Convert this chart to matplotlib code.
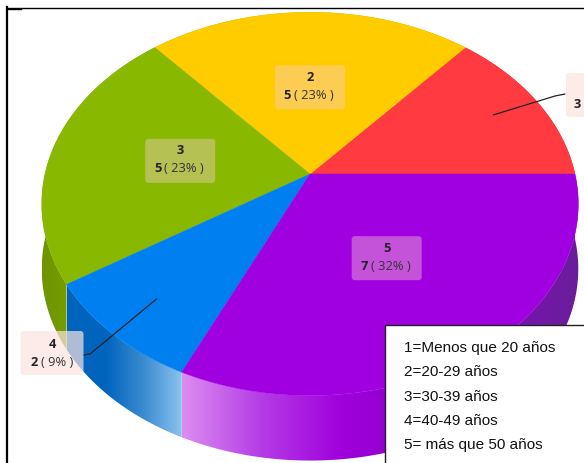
import numpy as np
import matplotlib
matplotlib.use("Agg")
import matplotlib.pyplot as plt
from matplotlib.patches import Polygon, FancyBboxPatch
from matplotlib.colors import LinearSegmentedColormap

# age groups and counts
groups = ["1", "2", "3", "4", "5"]
counts = [3, 5, 5, 2, 7]
percents = [14, 23, 23, 9, 32]
colors = ["#FF3A40", "#FFCC00", "#88B800", "#0080F0", "#A000E0"]
legend_lines = ["1=Menos que 20 años", "2=20-29 años", "3=30-39 años",
                "4=40-49 años", "5= más que 50 años"]

# perspective of the pie, in pixels
cx, cy = 310, 175
rx, ry = 265, 187
persp = 0.156
depth = 65


def project(theta, r=1.0):
    u = r * np.cos(theta)
    v = r * np.sin(theta)
    w = 1 + persp * v
    return cx + rx * u / w, cy - ry * v / w


def rim(t0, t1):
    t = np.linspace(t0, t1, 120)
    x, y = project(t)
    return np.column_stack([x, y])


fig = plt.figure(figsize=(5.84, 4.64), dpi=100)
ax = fig.add_axes([0, 0, 1, 1])
ax.set_xlim(0, 584)
ax.set_ylim(464, 0)
ax.axis("off")

edges = np.radians(np.concatenate([[0], np.cumsum(counts)]) / sum(counts) * 360)

# side walls, each with a horizontal gradient
side_stops = {
    0: ["#B02020", "#B02020"],
    1: ["#B08C00", "#B08C00"],
    2: ["#6E9400", "#7FA800", "#6E9000"],
    3: ["#0064BE", "#0064BE", "#3C8CD0", "#8CC4F0"],
    4: ["#DC8CF0", "#B43CE6", "#A000DC", "#8C00C8", "#7A10B4", "#6A1E9A"],
}
for i in range(len(counts)):
    top = rim(edges[i], edges[i + 1])
    low = top[::-1] + [0, depth]
    poly = Polygon(np.vstack([top, low]), closed=True, fc="none", ec="none")
    ax.add_patch(poly)
    x0, x1 = top[:, 0].min(), top[:, 0].max()
    cmap = LinearSegmentedColormap.from_list("side", side_stops[i])
    img = ax.imshow(np.linspace(0, 1, 256).reshape(1, -1), cmap=cmap, aspect="auto",
                    extent=[x0, x1, 470, 0], zorder=1)
    img.set_clip_path(poly)
ax.set_xlim(0, 584)
ax.set_ylim(464, 0)

# top face
for i in range(len(counts)):
    pts = np.vstack([[cx, cy], rim(edges[i], edges[i + 1])])
    ax.add_patch(Polygon(pts, closed=True, fc=colors[i], ec=colors[i], lw=0.3, zorder=2))

font = "Open Sans"
fsize = 9.3
mids = (edges[:-1] + edges[1:]) / 2


def label_text(lx, ly, i, top_dy, low_dy, gap, z):
    # group on top, bold count and plain share below; the slice 1 label runs off the picture
    ax.text(lx - gap - 3, ly + low_dy, str(counts[i]), ha="right", va="center", fontsize=fsize,
            fontweight="bold", family=font, color="#222222", zorder=z)
    if lx < 584:
        ax.text(lx, ly + top_dy, groups[i], ha="center", va="center", fontsize=fsize,
                fontweight="bold", family=font, color="#222222", zorder=z)
        ax.text(lx - gap, ly + low_dy, "( %d%% )" % percents[i], ha="left", va="center",
                fontsize=fsize, family=font, color="#333333", zorder=z)


# labels inside the big slices
for i in [1, 2, 4]:
    lx, ly = project(mids[i], 0.5)
    ax.add_patch(FancyBboxPatch((lx - 35, ly - 22), 70, 44, boxstyle="round,pad=0,rounding_size=3",
                                fc="#FBD0D0", ec="none", alpha=0.4, zorder=3))
    label_text(lx, ly, i, -11, 7, 16, 5)

# leader lines for the small slices, then their labels outside the pie
outside = {0: (601, 96), 3: (52, 354)}
elbow = {0: (555, 97), 3: (90, 355)}
end = {0: (565, 95), 3: (84, 356)}
for i, (lx, ly) in outside.items():
    sx, sy = project(mids[i], 0.8)
    ax.plot([sx, elbow[i][0], end[i][0]], [sy, elbow[i][1], end[i][1]], color="#222222", lw=0.9,
            zorder=6, solid_capstyle="round")
    w = 63 if i == 3 else 70
    ax.add_patch(FancyBboxPatch((lx - w / 2, ly - 22), w, 44, boxstyle="round,pad=0,rounding_size=3",
                                fc="#FBE3DF", ec="none", alpha=0.7, zorder=5))
    label_text(lx, ly, i, -9, 9, 11 if i == 3 else 17, 7)

# legend box pasted over the pie
ax.add_patch(plt.Rectangle((384.5, 325.5), 210, 150, fc="white", ec="#222222", lw=1, zorder=8))
for j, line in enumerate(legend_lines):
    ax.text(404, 348 + j * 24.3, line, ha="left", va="center", fontsize=11,
            family="Liberation Sans", color="#111111", zorder=9)

# frame of the surrounding table
ax.plot([7, 7], [8, 464], color="black", lw=1.6, zorder=10)
ax.plot([7, 584], [8.5, 8.5], color="black", lw=1, zorder=10)
ax.plot([7, 21], [9.5, 9.5], color="black", lw=1, zorder=10)

fig.savefig("out.png", dpi=100)
